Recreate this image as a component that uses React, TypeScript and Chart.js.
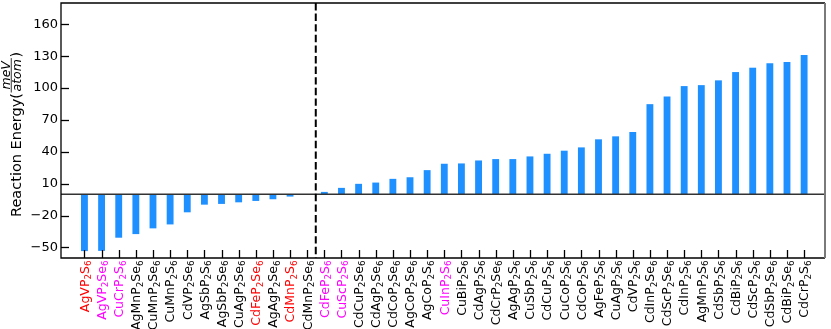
import React, { useEffect, useRef } from 'react';
import { Chart, registerables } from 'chart.js';

Chart.register(...registerables);

const compounds = [
  'AgVP2S6', 'AgVP2Se6', 'CuCrP2S6', 'AgMnP2Se6', 'CuMnP2Se6', 'CuMnP2S6', 'CdVP2Se6',
  'AgSbP2S6', 'AgSbP2Se6', 'CuAgP2Se6', 'CdFeP2Se6', 'AgAgP2Se6', 'CdMnP2S6', 'CdMnP2Se6',
  'CdFeP2S6', 'CuScP2S6', 'CdCuP2Se6', 'CdAgP2Se6', 'CdCoP2Se6', 'AgCoP2Se6', 'AgCoP2S6',
  'CuInP2S6', 'CuBiP2S6', 'CdAgP2S6', 'CdCrP2Se6', 'AgAgP2S6', 'CuSbP2S6', 'CdCuP2S6',
  'CuCoP2S6', 'CdCoP2S6', 'AgFeP2S6', 'CuAgP2S6', 'CdVP2S6', 'CdInP2Se6', 'CdScP2Se6',
  'CdInP2S6', 'AgMnP2S6', 'CdSbP2S6', 'CdBiP2S6', 'CdScP2S6', 'CdSbP2Se6', 'CdBiP2Se6',
  'CdCrP2S6',
];

const reactionEnergy = [
  -53.5, -53.3, -40.9, -37.5, -32.1, -28.4, -17.0,
  -9.8, -9.1, -7.6, -6.3, -4.7, -2.2, -0.6,
  2.2, 6.0, 9.8, 11.0, 14.5, 16.0, 22.7,
  28.7, 29.0, 31.8, 33.1, 33.1, 35.6, 38.1,
  41.0, 44.1, 51.7, 54.5, 58.6, 84.8, 92.0,
  101.8, 102.7, 107.2, 115.0, 119.1, 123.2, 124.5,
  131.1,
];

const yTickValues = [-50, -20, 10, 40, 70, 100, 130, 160];

const redCompounds = ['AgVP2S6', 'CdFeP2Se6', 'CdMnP2S6'];
const magentaCompounds = ['AgVP2Se6', 'CuCrP2S6', 'CdFeP2S6', 'CuScP2S6', 'CuInP2S6'];

const FONT = '"DejaVu Sans", sans-serif';
const LABEL_SIZE = 12.5;

function labelColor(i: number): string {
  const name = compounds[i];
  if (redCompounds.includes(name)) return '#ff0000';
  if (magentaCompounds.includes(name)) return '#ff00ff';
  return '#000000';
}

function formulaParts(name: string): { text: string; sub: boolean }[] {
  const parts: { text: string; sub: boolean }[] = [];
  const re = /(\d+)|(\D+)/g;
  let m: RegExpExecArray | null;
  while ((m = re.exec(name)) !== null) {
    parts.push({ text: m[0], sub: !!m[1] });
  }
  return parts;
}

const decorPlugin = {
  id: 'decor',
  afterDatasetsDraw(chart: any) {
    const { ctx, chartArea } = chart;
    const { left, right, top, bottom } = chartArea;
    const xs = chart.scales.x;
    const ys = chart.scales.y;
    ctx.save();
    // zero line
    const y0 = ys.getPixelForValue(0);
    ctx.strokeStyle = '#333333';
    ctx.lineWidth = 1.5;
    ctx.beginPath();
    ctx.moveTo(left, y0);
    ctx.lineTo(right, y0);
    ctx.stroke();
    // dashed separator between negative and positive
    const firstPos = reactionEnergy.findIndex((v) => v > 0);
    const xd = xs.getPixelForValue(firstPos - 0.5);
    ctx.strokeStyle = '#000000';
    ctx.lineWidth = 2;
    ctx.setLineDash([7.4, 3.2]);
    ctx.beginPath();
    ctx.moveTo(xd, top);
    ctx.lineTo(xd, bottom);
    ctx.stroke();
    ctx.setLineDash([]);
    // inward ticks
    ctx.strokeStyle = '#000000';
    ctx.lineWidth = 1.3;
    compounds.forEach((_, i) => {
      const x = Math.round(xs.getPixelForValue(i)) + 0.5;
      ctx.beginPath();
      ctx.moveTo(x, bottom);
      ctx.lineTo(x, bottom - 8);
      ctx.stroke();
    });
    yTickValues.forEach((v) => {
      const y = Math.round(ys.getPixelForValue(v)) + 0.5;
      ctx.beginPath();
      ctx.moveTo(left, y);
      ctx.lineTo(left + 8, y);
      ctx.stroke();
    });
    // frame
    ctx.lineWidth = 1.3;
    ctx.strokeStyle = '#000000';
    ctx.beginPath();
    ctx.moveTo(right, top);
    ctx.lineTo(left, top);
    ctx.lineTo(left, bottom);
    ctx.lineTo(right, bottom);
    ctx.stroke();
    ctx.strokeStyle = '#7a7a7a';
    ctx.lineWidth = 2;
    ctx.beginPath();
    ctx.moveTo(right, top);
    ctx.lineTo(right, bottom);
    ctx.stroke();
    ctx.restore();

    // x tick labels (rotated, with subscripts)
    const mainF = `${LABEL_SIZE}px ${FONT}`;
    const subF = `${LABEL_SIZE * 0.7}px ${FONT}`;
    compounds.forEach((name, i) => {
      const parts = formulaParts(name);
      let total = 0;
      const widths = parts.map((p) => {
        ctx.font = p.sub ? subF : mainF;
        const w = ctx.measureText(p.text).width;
        total += w;
        return w;
      });
      ctx.save();
      ctx.translate(xs.getPixelForValue(i) + 4.3, bottom + 2.5);
      ctx.rotate(-Math.PI / 2);
      ctx.fillStyle = labelColor(i);
      ctx.textAlign = 'left';
      ctx.textBaseline = 'alphabetic';
      let pos = -total;
      parts.forEach((p, k) => {
        ctx.font = p.sub ? subF : mainF;
        ctx.fillText(p.text, pos, p.sub ? LABEL_SIZE * 0.2 : 0);
        pos += widths[k];
      });
      ctx.restore();
    });

    // y-axis title with fraction
    ctx.save();
    ctx.fillStyle = '#000000';
    ctx.translate(21, 217);
    ctx.rotate(-Math.PI / 2);
    ctx.textAlign = 'left';
    ctx.textBaseline = 'alphabetic';
    const mainFont = `14.5px ${FONT}`;
    const fracFont = `italic 12.5px ${FONT}`;
    ctx.font = mainFont;
    const part1 = 'Reaction Energy(';
    ctx.fillText(part1, 0, 0);
    let pos = ctx.measureText(part1).width + 0.5;
    ctx.font = fracFont;
    const wn = ctx.measureText('meV').width;
    const wd = ctx.measureText('atom').width;
    const fw = Math.max(wn, wd) + 2;
    const barY = -9.8;
    ctx.fillRect(pos, barY - 0.4, fw, 0.8);
    ctx.fillText('meV', pos + (fw - wn) / 2, barY - 1.3);
    ctx.fillText('atom', pos + (fw - wd) / 2, -0.3);
    pos += fw + 0.5;
    ctx.font = mainFont;
    ctx.fillText(')', pos, 0);
    ctx.restore();
  },
};

export default function App() {
  const canvasRef = useRef<HTMLCanvasElement | null>(null);

  useEffect(() => {
    const canvas = canvasRef.current;
    if (!canvas) return;
    const chart = new Chart(canvas, {
      type: 'bar',
      data: {
        datasets: [
          {
            data: reactionEnergy.map((v, i) => ({ x: i, y: v })),
            backgroundColor: '#1e90ff',
            borderWidth: 0,
            barPercentage: 0.4,
            categoryPercentage: 1,
          },
        ],
      },
      options: {
        responsive: false,
        animation: false,
        devicePixelRatio: 1,
        layout: { padding: { top: 3, right: 6, left: 0, bottom: 0 } },
        plugins: { legend: { display: false }, tooltip: { enabled: false } },
        scales: {
          x: {
            type: 'linear',
            min: -0.85,
            max: 42.7,
            afterBuildTicks: (s: any) => {
              s.ticks = compounds.map((_, i) => ({ value: i }));
            },
            afterFit: (s: any) => {
              s.height = 71;
              s.paddingLeft = 0;
              s.paddingRight = 0;
            },
            ticks: { display: false },
            grid: { display: false, drawTicks: false },
            border: { display: false },
          },
          y: {
            min: -60,
            max: 180,
            afterBuildTicks: (s: any) => {
              s.ticks = yTickValues.map((v) => ({ value: v }));
            },
            afterFit: (s: any) => {
              s.width = 61;
              s.paddingTop = 0;
              s.paddingBottom = 0;
            },
            ticks: {
              padding: 3,
              color: '#000000',
              font: { family: FONT, size: 13 },
              callback: (v: any) => (v < 0 ? '\u2212' + Math.abs(v) : String(v)),
            },
            grid: { display: false, drawTicks: false },
            border: { display: false },
          },
        },
      },
      plugins: [decorPlugin],
    });
    return () => chart.destroy();
  }, []);

  return (
    <div style={{ position: 'fixed', left: 0, top: 0, width: 831, height: 329, background: '#ffffff' }}>
      <canvas ref={canvasRef} width={831} height={329} style={{ display: 'block' }} />
    </div>
  );
}
